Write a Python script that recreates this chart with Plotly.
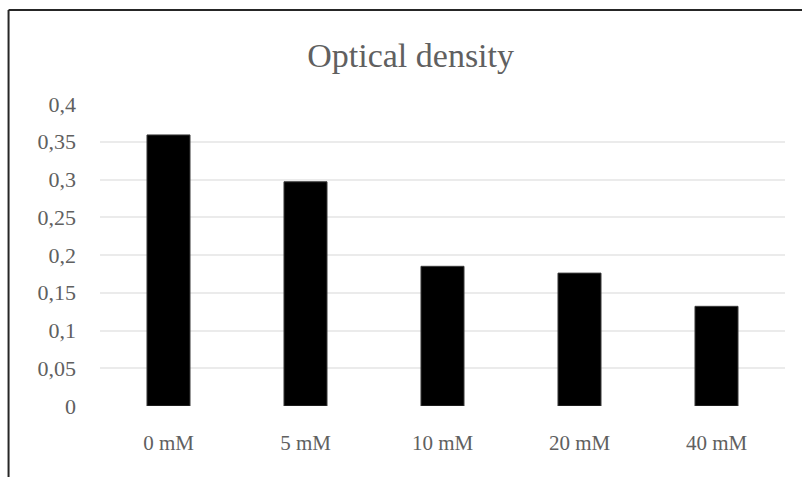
import plotly.graph_objects as go

# Optical density by concentration
categories = ["0 mM", "5 mM", "10 mM", "20 mM", "40 mM"]
optical_density = [0.359, 0.297, 0.185, 0.176, 0.132]

y_tick_values = [0, 0.05, 0.1, 0.15, 0.2, 0.25, 0.3, 0.35, 0.4]
y_tick_labels = ["0", "0,05", "0,1", "0,15", "0,2", "0,25", "0,3", "0,35", "0,4"]

text_grey = "#606060"
serif = "Liberation Serif, Times New Roman, serif"

fig = go.Figure(
    go.Bar(
        x=categories,
        y=optical_density,
        marker=dict(color="#000000", line=dict(color="#3a3a3a", width=1)),
    )
)

fig.update_layout(
    width=802,
    height=477,
    margin=dict(l=100, r=17, t=104, b=71),
    paper_bgcolor="white",
    plot_bgcolor="white",
    bargap=0.686,
    showlegend=False,
    title=dict(
        text="Optical density",
        font=dict(family=serif, size=34, color=text_grey),
        xref="container",
        yref="container",
        x=0.512,
        xanchor="center",
        y=0.885,
        yanchor="middle",
    ),
    font=dict(family=serif, color=text_grey),
    xaxis=dict(
        showline=False,
        showgrid=False,
        ticks="",
        tickfont=dict(family=serif, size=21, color=text_grey),
        ticklabelstandoff=22,
    ),
    yaxis=dict(
        range=[0, 0.4],
        tickvals=y_tick_values,
        ticktext=y_tick_labels,
        showgrid=True,
        gridcolor="#ebebeb",
        gridwidth=1.5,
        zeroline=False,
        showline=False,
        ticks="",
        tickfont=dict(family=serif, size=22, color=text_grey),
        ticklabelstandoff=23,
    ),
    shapes=[
        # outer frame of the chart area (left and top edges)
        dict(type="line", xref="paper", yref="paper",
             x0=-0.1335, x1=-0.1335, y0=-0.4, y1=1.311,
             line=dict(color="#262626", width=2)),
        dict(type="line", xref="paper", yref="paper",
             x0=-0.1335, x1=1.2, y0=1.311, y1=1.311,
             line=dict(color="#262626", width=2)),
    ],
)

fig.write_html("out.html")
